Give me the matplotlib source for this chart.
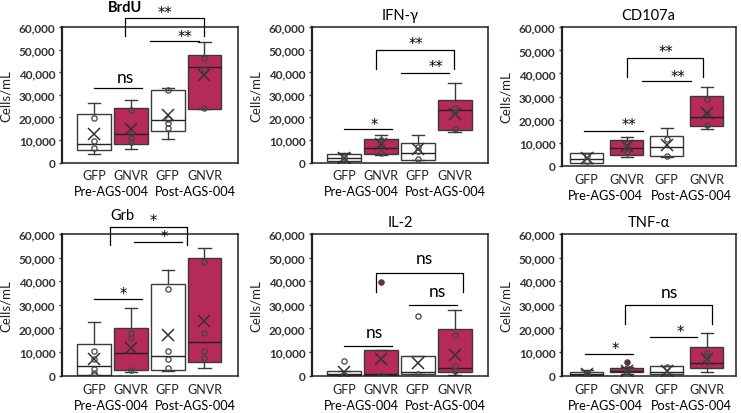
import matplotlib.pyplot as plt
from matplotlib.ticker import FuncFormatter

plt.rcParams['font.family'] = ['Lato', 'DejaVu Sans']

# categories
groups = ["GFP", "GNVR", "GFP", "GNVR"]
phases = ["Pre-AGS-004", "Post-AGS-004"]
titles = ["BrdU", "IFN-γ", "CD107a", "Grb", "IL-2", "TNF-α"]

# five-number summaries per group: (whisker low, q1, median, q3, whisker high)
brdu_box = [(4000, 5600, 8400, 21400, 26500), (6200, 8400, 12500, 24300, 27600),
            (10600, 14000, 19000, 32000, 33200), (23600, 23900, 42300, 47900, 53500)]
brdu_mean = [12500, 14700, 21100, 38800]
brdu_pts = [[19600, 9600, 6600], [23400, 13300, 11000, 9100],
            [32000, 19500, 17700, 15500], [46400, 41700, 24000]]

ifng_box = [(300, 700, 1900, 3700, 4400), (3400, 3700, 6600, 10600, 12100),
            (1000, 1200, 4100, 8800, 12200), (13700, 14400, 23100, 27600, 35400)]
ifng_mean = [1800, 8100, 5900, 21400]
ifng_pts = [[2500, 1000], [10000, 8100, 4100], [7100, 5200, 1500], [24300, 22600, 15000]]

cd107a_box = [(1000, 1000, 2900, 5500, 5500), (3800, 4800, 7700, 11000, 12400),
              (3900, 4200, 8100, 12900, 16400), (16100, 17300, 21000, 30300, 34200)]
cd107a_mean = [3200, 8700, 9100, 23000]
cd107a_pts = [[4400, 1900], [10000, 7700, 5900], [11700, 4200], [29100, 23000, 17800]]

grb_box = [(400, 400, 4200, 13400, 22600), (1400, 2500, 9500, 20000, 28500),
           (1800, 2500, 8500, 38800, 44900), (3100, 5900, 14100, 49700, 54100)]
grb_mean = [7100, 11600, 17200, 23300]
grb_pts = [[10600, 7100, 2800, 1100, 400], [17900, 16000, 2500],
           [36700, 10600, 7100, 3200], [48000, 18100, 10600, 7300]]

il2_box = [(300, 300, 700, 1800, 2100), (300, 300, 700, 11000, 11000),
           (600, 600, 1400, 8200, 8200), (300, 1400, 3200, 19800, 28000)]
il2_mean = [1700, 7100, 5400, 8900]
il2_pts = [[6100, 300], [300], [25200, 700], [17200, 4200, 2100]]
il2_out = [[], [39800], [], []]

tnfa_box = [(300, 300, 700, 1700, 2500), (700, 1400, 2100, 3100, 3500),
            (600, 600, 1400, 4000, 4000), (1700, 3200, 5200, 12000, 18100)]
tnfa_mean = [700, 1800, 2100, 7100]
tnfa_pts = [[1100, 300], [3100, 1400], [3800, 700], [9600, 8200, 5600]]
tnfa_out = [[], [5900], [], []]

# significance marks: lines (x1, x2, y, label, tx, ty), brackets (x1, x2, ytop, ylow, label, tx, ty)
brdu_lines = [(1.0, 2.3, 32900, "ns", 1.85, 38000), (2.53, 3.84, 53900, "**", 3.47, 57600)]
brdu_brackets = [(1.85, 3.98, 64200, 56300, "**", 2.94, 68500)]
ifng_lines = [(1.0, 2.31, 14700, "*", 1.81, 18600), (2.55, 3.86, 39800, "**", 3.49, 44300)]
ifng_brackets = [(1.87, 3.98, 50100, 41700, "**", 2.95, 54600)]
cd107a_lines = [(0.93, 2.4, 15200, "**", 2.05, 19500), (2.39, 3.6, 36700, "**", 3.27, 40300)]
cd107a_brackets = [(2.0, 3.9, 46800, 38600, "**", 2.98, 51300)]
grb_lines = [(1.0, 2.3, 32500, "*", 1.8, 36500), (2.08, 3.38, 56500, "*", 2.92, 60500)]
grb_brackets = [(1.44, 3.52, 63100, 55500, "*", 2.61, 67600)]
il2_lines = [(1.0, 2.31, 12400, "ns", 1.82, 18400), (2.76, 4.06, 29900, "ns", 3.54, 36000)]
il2_brackets = [(1.87, 4.23, 43500, 35300, "ns", 3.18, 49700)]
tnfa_lines = [(0.96, 2.17, 9200, "*", 1.71, 13300), (2.58, 3.75, 16200, "*", 3.33, 20400)]
tnfa_brackets = [(1.96, 4.13, 30100, 21900, "ns", 3.08, 35600)]

RED = '#B5295B'
EDGE = '#3a3a3a'
fills = ['white', RED, 'white', RED]
pos = [1, 2, 3, 4]

fig = plt.figure(figsize=(7.41, 4.14), dpi=100)

# axes rectangles in figure fractions
rects = [[0.0833, 0.605, 0.2383, 0.3266], [0.4206, 0.605, 0.2386, 0.3266],
         [0.758, 0.5973, 0.2348, 0.3343],
         [0.0833, 0.0901, 0.2383, 0.3423], [0.4206, 0.0901, 0.2386, 0.3423],
         [0.758, 0.0901, 0.2348, 0.3423]]


def sig_text(ax, tx, ty, lab):
    # asterisks use DejaVu (bigger glyph), nudged down so the glyph sits on ty
    if lab == 'ns':
        ax.text(tx, ty, lab, ha='center', va='center', fontsize=12.5, clip_on=False)
    else:
        ax.annotate(lab, (tx, ty), xytext=(0, -3), textcoords='offset points', ha='center',
                    va='center', fontsize=10.5, family='DejaVu Sans', annotation_clip=False)


def draw_panel(ax, box, mean, pts, outl, lines, brackets, title, col, title_x=None, title_y=1.1, bold=False):
    if col == 2:
        xlim, width, capw = (0.375, 4.725), 0.84, 0.3
        pre_x, post_x = 1.48, 3.62
    else:
        xlim, width, capw = (0.122, 4.92), 0.92, 0.33
        pre_x, post_x = 1.48, 3.74
    stats = []
    for i in range(4):
        lo, q1, med, q3, hi = box[i]
        stats.append(dict(whislo=lo, q1=q1, med=med, q3=q3, whishi=hi, mean=mean[i], fliers=[]))
    bp = ax.bxp(stats, positions=pos, widths=width, capwidths=capw, patch_artist=True, showmeans=True,
                boxprops=dict(edgecolor=EDGE, linewidth=1.0),
                medianprops=dict(color='#222222', linewidth=1.0),
                whiskerprops=dict(color=EDGE, linewidth=1.0),
                capprops=dict(color=EDGE, linewidth=1.0),
                meanprops=dict(marker='x', markeredgecolor='#333333', markersize=8, markeredgewidth=1.1))
    for patch, c in zip(bp['boxes'], fills):
        patch.set_facecolor(c)
    for i, p in enumerate(pts):
        ax.plot([pos[i]] * len(p), p, 'o', mfc='none', mec='#444444', ms=3.8, mew=0.9, zorder=4)
    for i, p in enumerate(outl):
        ax.plot([pos[i]] * len(p), p, 'o', mfc='#7a2040', mec='#444444', ms=3.8, mew=0.9, zorder=4)

    for x1, x2, y, lab, tx, ty in lines:
        ax.plot([x1, x2], [y, y], color='black', lw=0.9, clip_on=False)
        sig_text(ax, tx, ty, lab)
    for x1, x2, yt, yl, lab, tx, ty in brackets:
        ax.plot([x1, x1, x2, x2], [yl, yt, yt, yl], color='black', lw=0.9, clip_on=False)
        sig_text(ax, tx, ty, lab)

    ax.set_xlim(*xlim)
    ax.set_ylim(0, 60000)
    ax.set_yticks(range(0, 60001, 10000))
    ax.yaxis.set_major_formatter(FuncFormatter(lambda v, p: '{:,.0f}'.format(v)))
    ax.set_xticks(pos)
    ax.set_xticklabels(groups, fontsize=9, color='#222222')
    ax.tick_params(axis='x', length=0, pad=5)
    ax.tick_params(axis='y', length=2.5, width=1, labelsize=8.5, colors='#333333', pad=2)
    for lab in ax.get_yticklabels():
        lab.set_fontweight('bold')
    for s in ax.spines.values():
        s.set_linewidth(1.1)
        s.set_color('#222222')
    ax.spines['left'].set_linewidth(1.6)
    ax.set_ylabel('Cells/mL', fontsize=9.5, color='#222222', labelpad=5)

    ax.text(pre_x, -0.21, phases[0], transform=ax.get_xaxis_transform(), ha='center', va='center', fontsize=9.2)
    ax.text(post_x, -0.21, phases[1], transform=ax.get_xaxis_transform(), ha='center', va='center', fontsize=9.2)
    if title_x is None:
        ax.set_title(title, fontsize=10.5, pad=6)
    else:
        ax.text(title_x, title_y, title, transform=ax.get_xaxis_transform(), ha='center', va='center',
                fontsize=10.5, fontweight='bold' if bold else 'normal')


panels = [
    (brdu_box, brdu_mean, brdu_pts, [[], [], [], []], brdu_lines, brdu_brackets),
    (ifng_box, ifng_mean, ifng_pts, [[], [], [], []], ifng_lines, ifng_brackets),
    (cd107a_box, cd107a_mean, cd107a_pts, [[], [], [], []], cd107a_lines, cd107a_brackets),
    (grb_box, grb_mean, grb_pts, [[], [], [], []], grb_lines, grb_brackets),
    (il2_box, il2_mean, il2_pts, il2_out, il2_lines, il2_brackets),
    (tnfa_box, tnfa_mean, tnfa_pts, tnfa_out, tnfa_lines, tnfa_brackets),
]

for k, (box, mean, pts, outl, lines, brackets) in enumerate(panels):
    ax = fig.add_axes(rects[k])
    col = k % 3
    if k == 0:
        draw_panel(ax, box, mean, pts, outl, lines, brackets, titles[k], col, title_x=1.85, title_y=1.15, bold=True)
    elif k == 3:
        draw_panel(ax, box, mean, pts, outl, lines, brackets, titles[k], col, title_x=1.78, title_y=1.135)
    else:
        draw_panel(ax, box, mean, pts, outl, lines, brackets, titles[k], col)

fig.savefig('out.png', dpi=100)
